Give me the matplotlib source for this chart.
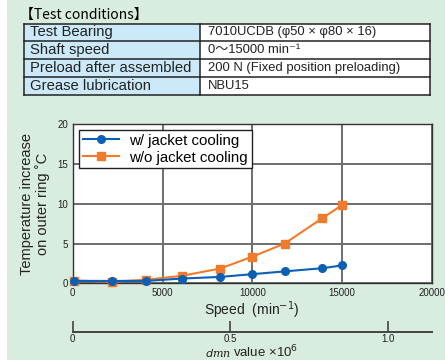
import matplotlib
matplotlib.use("Agg")
import matplotlib.pyplot as plt
from matplotlib.patches import Rectangle
from matplotlib.lines import Line2D

plt.rcParams['font.family'] = ['Liberation Sans', 'DejaVu Sans', 'Noto Sans CJK JP']

# ---- data ----
speed = [100, 2200, 4100, 6100, 8200, 10000, 11800, 13900, 15000]
with_cooling = [0.3, 0.3, 0.3, 0.6, 0.8, 1.15, 1.5, 1.9, 2.25]
without_cooling = [0.35, 0.2, 0.45, 0.95, 1.85, 3.35, 5.0, 8.2, 9.85]
series_labels = ["w/ jacket cooling", "w/o jacket cooling"]
x_ticks = [0, 5000, 10000, 15000, 20000]
y_ticks = [0, 5, 10, 15, 20]
dmn_ticks = [0, 0.5, 1.0]
dmn_ticklabels = ["0", "0.5", "1.0"]
dmn_max = 1.14
table_rows = [
    ("Test Bearing", "7010UCDB (φ50 × φ80 × 16)"),
    ("Shaft speed", "0～15000 min⁻¹"),
    ("Preload after assembled", "200 N (Fixed position preloading)"),
    ("Grease lubrication", "NBU15"),
]

W, H = 445, 360
fig = plt.figure(figsize=(W / 100, H / 100), dpi=100, facecolor="white")

def fx(px):
    return px / W

def fy(py):
    return 1 - py / H

GREEN = "#d8ecdf"
BLUE_HDR = "#cbe9f8"
fig.patches.append(Rectangle((fx(7), 0), 1 - fx(7), 1, transform=fig.transFigure,
                             facecolor=GREEN, edgecolor="none", zorder=-5))

# ---- table ----
fig.text(fx(20), fy(15), "【Test conditions】", fontsize=10, va="center", ha="left",
         family=['Noto Sans CJK JP', 'Liberation Sans'])
t_left, t_mid, t_right = 24, 200, 430
t_top, row_h = 23.5, 17.9
n = len(table_rows)
fig.patches.append(Rectangle((fx(t_left), fy(t_top + n * row_h)), fx(t_mid - t_left), n * row_h / H,
                             transform=fig.transFigure, facecolor=BLUE_HDR, edgecolor="none", zorder=1))
fig.patches.append(Rectangle((fx(t_mid), fy(t_top + n * row_h)), fx(t_right - t_mid), n * row_h / H,
                             transform=fig.transFigure, facecolor="white", edgecolor="none", zorder=1))
lc = "#222222"
for i in range(n + 1):
    yy = fy(t_top + i * row_h)
    fig.add_artist(Line2D([fx(t_left), fx(t_right)], [yy, yy], color=lc, lw=1.1, zorder=2))
for xx in (t_left, t_mid, t_right):
    fig.add_artist(Line2D([fx(xx), fx(xx)], [fy(t_top), fy(t_top + n * row_h)], color=lc, lw=1.1, zorder=2))
for i, (k, v) in enumerate(table_rows):
    yc = fy(t_top + (i + 0.5) * row_h)
    fig.text(fx(30), yc, k, fontsize=10.7, va="center", ha="left", color="#222222", zorder=3)
    fig.text(fx(208), yc, v, fontsize=9.4, va="center", ha="left", color="#222222", zorder=3)

# ---- main chart ----
ax = fig.add_axes([fx(72.7), fy(283.3), fx(432) - fx(72.7), fy(124.3) - fy(283.3)])
ax.set_facecolor("white")
BLUE = "#0b5fb5"
ORANGE = "#f07b2c"
ax.plot(speed, without_cooling, color=ORANGE, lw=1.5, marker="s", ms=6.2,
        label=series_labels[1], zorder=3, clip_on=False)
ax.plot(speed, with_cooling, color=BLUE, lw=1.5, marker="o", ms=5.5,
        label=series_labels[0], zorder=4, clip_on=False)
ax.set_xlim(0, 20000)
ax.set_ylim(0, 20)
ax.set_xticks(x_ticks)
ax.set_yticks(y_ticks)
ax.tick_params(length=0, labelsize=7, pad=3.5, colors="#222222")
ax.grid(True, color="#6e6e6e", lw=1.4)
ax.set_axisbelow(True)
for s in ax.spines.values():
    s.set_color("#333333")
    s.set_linewidth(1.0)
h, l = ax.get_legend_handles_labels()
leg = ax.legend(h[::-1], l[::-1], loc="upper left", bbox_to_anchor=(0.018, 0.965), fontsize=10.8,
                frameon=True, fancybox=False, framealpha=1, edgecolor="#222222",
                borderpad=0.25, handlelength=2.4, handletextpad=0.7, labelspacing=0.2,
                borderaxespad=0)
leg.get_frame().set_linewidth(1.0)

fig.text(fx(35), fy(204), "Temperature increase\non outer ring ˚C", rotation=90, fontsize=10.5,
         ha="center", va="center", linespacing=1.15, color="#222222")
fig.text(fx(252), fy(310), "Speed  (min$^{-1}$)", fontsize=10, ha="center", va="center", color="#222222")

# ---- dmn axis ----
ax2 = fig.add_axes([fx(72.7), fy(331.7), fx(432) - fx(72.7), 0.0001])
ax2.set_xlim(0, dmn_max)
ax2.set_xticks(dmn_ticks)
ax2.set_xticklabels(dmn_ticklabels)
ax2.set_yticks([])
for side in ("top", "left", "right"):
    ax2.spines[side].set_visible(False)
ax2.spines["bottom"].set_color("#444444")
ax2.spines["bottom"].set_linewidth(1.4)
ax2.tick_params(axis="x", direction="in", length=8, width=1.2, color="#444444",
                labelsize=7, pad=2, colors="#444444")
ax2.tick_params(axis="x", labelcolor="#222222")
ax2.patch.set_visible(False)
fig.text(fx(231), fy(353), "$d$mn", fontsize=8, ha="right", va="center", color="#222222",
         family="DejaVu Serif", style="italic")
fig.text(fx(233), fy(352), "value ×10$^6$", fontsize=9.5, ha="left", va="center", color="#222222")

fig.savefig("out.png", dpi=100, facecolor="white")
